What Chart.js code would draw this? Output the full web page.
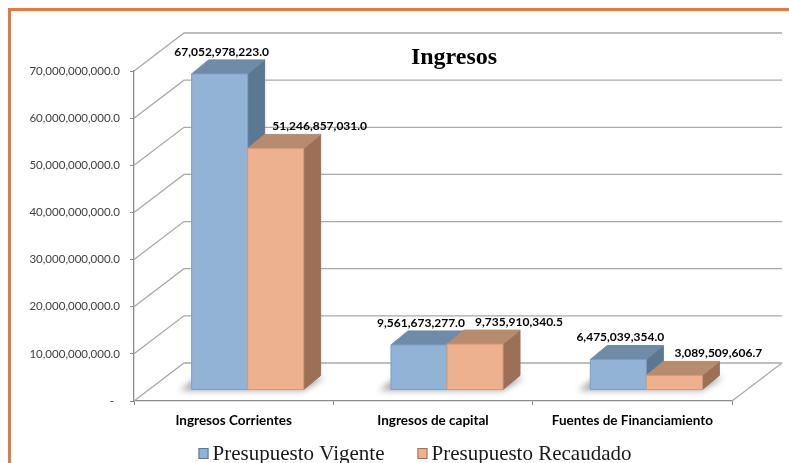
<!DOCTYPE html>
<html>
<head>
<meta charset="utf-8">
<title>Ingresos</title>
<script src="https://cdn.jsdelivr.net/npm/chart.js@4.4.1/dist/chart.umd.min.js"></script>
<style>
    html, body { margin: 0; padding: 0; background: #fff; }
    #wrap { width: 789px; height: 463px; }
</style>
</head>
<body>
<div id="wrap"><canvas id="ingresosChart" width="789" height="463"></canvas></div>
<script>
var chartTitle = 'Ingresos';
var categories = ['Ingresos Corrientes', 'Ingresos de capital', 'Fuentes de Financiamiento'];
var seriesNames = ['Presupuesto Vigente', 'Presupuesto Recaudado'];
var vigente = [67052978223.0, 9561673277.0, 6475039354.0];
var recaudado = [51246857031.0, 9735910340.5, 3089509606.7];
var yTicks = [0, 10000000000, 20000000000, 30000000000, 40000000000, 50000000000, 60000000000, 70000000000];

// colors of the 3d boxes: front, top and right side
var faceColors = [
    { front: '#93b3d6', top: '#6f8ba7', side: '#5c7792', edge: '#7f9fc2' },
    { front: '#edb18f', top: '#b78b6e', side: '#9a7157', edge: '#d49b7a' }
];

var BACK = { x: 50, y: -38 };       // depth of the floor / walls
var BAR_FRONT = { x: 14, y: -11 };  // bars sit a bit behind the front edge
var BAR_DEPTH = { x: 17, y: -14 };  // thickness of each bar
var LABEL_SHIFT = [2, 44];          // excel pushed the second label to the right

function formatNumber(v) {
    return v.toLocaleString('en-US', { minimumFractionDigits: 1, maximumFractionDigits: 1 });
}

function poly(ctx, pts, fill, stroke) {
    ctx.beginPath();
    ctx.moveTo(pts[0][0], pts[0][1]);
    for (var i = 1; i < pts.length; i++) ctx.lineTo(pts[i][0], pts[i][1]);
    ctx.closePath();
    ctx.fillStyle = fill;
    ctx.fill();
    if (stroke) {
        ctx.strokeStyle = stroke;
        ctx.lineWidth = 1;
        ctx.stroke();
    }
}

function barBox(el) {
    var p = el.getProps(['x', 'y', 'base', 'width'], true);
    return {
        x0: p.x - p.width / 2 + BAR_FRONT.x,
        x1: p.x + p.width / 2 + BAR_FRONT.x,
        top: p.y + BAR_FRONT.y,
        bot: p.base + BAR_FRONT.y,
        cx: p.x + BAR_FRONT.x
    };
}

function drawBar(ctx, b, c) {
    var dx = BAR_DEPTH.x, dy = BAR_DEPTH.y;
    // right side
    poly(ctx, [[b.x1, b.top], [b.x1 + dx, b.top + dy], [b.x1 + dx, b.bot + dy], [b.x1, b.bot]], c.side, c.side);
    // top
    poly(ctx, [[b.x0, b.top], [b.x0 + dx, b.top + dy], [b.x1 + dx, b.top + dy], [b.x1, b.top]], c.top, c.top);
    // front
    poly(ctx, [[b.x0, b.top], [b.x1, b.top], [b.x1, b.bot], [b.x0, b.bot]], c.front, c.edge);
}

var box3d = {
    id: 'box3d',
    beforeDraw: function(chart) {
        var ctx = chart.ctx;
        ctx.save();
        ctx.fillStyle = '#fff';
        ctx.fillRect(0, 0, chart.width, chart.height);
        // orange frame, right and bottom sides are cut off in the original
        ctx.strokeStyle = '#e07b45';
        ctx.lineWidth = 3;
        ctx.strokeRect(9.5, 9.5, chart.width + 20, chart.height + 20);
        ctx.restore();
    },
    beforeDatasetsDraw: function(chart) {
        var ctx = chart.ctx;
        var area = chart.chartArea;
        var y = chart.scales.y;
        ctx.save();

        // side wall + back wall gridlines
        ctx.strokeStyle = '#a9a9a9';
        ctx.lineWidth = 1.3;
        yTicks.forEach(function(v) {
            var py = y.getPixelForValue(v);
            ctx.beginPath();
            ctx.moveTo(area.left, py);
            ctx.lineTo(area.left + BACK.x, py + BACK.y);
            ctx.lineTo(area.right + BACK.x, py + BACK.y);
            ctx.stroke();
        });
        var py0 = y.getPixelForValue(0);
        ctx.beginPath();
        ctx.moveTo(area.right, py0);
        ctx.lineTo(area.right + BACK.x, py0 + BACK.y);
        ctx.stroke();

        var metas = chart.data.datasets.map(function(ds, i) { return chart.getDatasetMeta(i); });

        for (var i = 0; i < categories.length; i++) {
            // soft shadow under the pair of bars
            var first = barBox(metas[0].data[i]);
            var last = barBox(metas[metas.length - 1].data[i]);
            ctx.save();
            ctx.filter = 'blur(3px)';
            poly(ctx, [
                [first.x0 - 12, first.bot + 1],
                [last.x1, last.bot + 1],
                [last.x1 + BAR_DEPTH.x + 4, last.bot + BAR_DEPTH.y + 2],
                [first.x0 + BAR_DEPTH.x - 12, first.bot + BAR_DEPTH.y + 2]
            ], 'rgba(0,0,0,0.35)');
            ctx.restore();

            for (var d = 0; d < metas.length; d++) {
                drawBar(ctx, barBox(metas[d].data[i]), faceColors[d]);
            }
        }
        ctx.restore();
        return false;
    },
    afterDraw: function(chart) {
        var ctx = chart.ctx;
        ctx.save();

        // value labels
        ctx.fillStyle = '#000';
        ctx.font = 'bold 12px Lato';
        ctx.textAlign = 'center';
        ctx.textBaseline = 'middle';
        chart.data.datasets.forEach(function(ds, d) {
            chart.getDatasetMeta(d).data.forEach(function(el, i) {
                var b = barBox(el);
                ctx.fillText(formatNumber(ds.data[i]), b.cx + LABEL_SHIFT[d], b.top - 22);
            });
        });

        // title
        ctx.font = 'bold 24px "Liberation Serif"';
        ctx.textBaseline = 'alphabetic';
        ctx.fillText(chartTitle, 454, 64);

        // legend
        ctx.font = '21px "Liberation Serif"';
        ctx.textAlign = 'left';
        var boxW = 10, gap = 4, itemGap = 33;
        var widths = seriesNames.map(function(n) { return boxW + gap + ctx.measureText(n).width; });
        var total = widths.reduce(function(a, b) { return a + b; }, 0) + itemGap * (widths.length - 1);
        var x = 415 - total / 2;
        seriesNames.forEach(function(n, d) {
            ctx.fillStyle = faceColors[d].front;
            ctx.fillRect(x, 448, boxW, 11);
            ctx.strokeStyle = faceColors[d].side;
            ctx.lineWidth = 1;
            ctx.strokeRect(x + 0.5, 448.5, boxW - 1, 10);
            ctx.fillStyle = '#1a1a1a';
            ctx.fillText(n, x + boxW + gap, 460);
            x += widths[d] + itemGap;
        });
        ctx.restore();
    }
};

var ctx = document.getElementById('ingresosChart').getContext('2d');
new Chart(ctx, {
    type: 'bar',
    data: {
        labels: categories,
        datasets: [
            { label: seriesNames[0], data: vigente, backgroundColor: faceColors[0].front },
            { label: seriesNames[1], data: recaudado, backgroundColor: faceColors[1].front }
        ]
    },
    options: {
        responsive: false,
        animation: false,
        events: [],
        layout: { padding: { left: 0, right: 57, top: 71, bottom: 32 } },
        datasets: { bar: { categoryPercentage: 0.562, barPercentage: 1 } },
        plugins: {
            legend: { display: false },
            title: { display: false },
            tooltip: { enabled: false }
        },
        scales: {
            x: {
                afterFit: function(scale) { scale.height = 30; },
                grid: { drawOnChartArea: false, offset: true, tickLength: 4, color: '#8c8c8c' },
                border: { color: '#8c8c8c', width: 1.3 },
                ticks: { color: '#000', font: { family: 'Lato', size: 13.5, weight: 'bold' }, padding: 8, maxRotation: 0 }
            },
            y: {
                min: 0,
                max: 70000000000,
                afterFit: function(scale) { scale.width = 134; },
                afterBuildTicks: function(axis) { axis.ticks = yTicks.map(function(v) { return { value: v }; }); },
                grid: { drawOnChartArea: false, tickLength: 4, color: '#8c8c8c' },
                border: { color: '#8c8c8c', width: 1.3 },
                ticks: {
                    color: '#404040',
                    padding: 10,
                    font: { family: 'Lato', size: 11.5 },
                    callback: function(v) { return v === 0 ? '-  ' : formatNumber(v); }
                }
            }
        }
    },
    plugins: [box3d]
});
</script>
</body>
</html>
